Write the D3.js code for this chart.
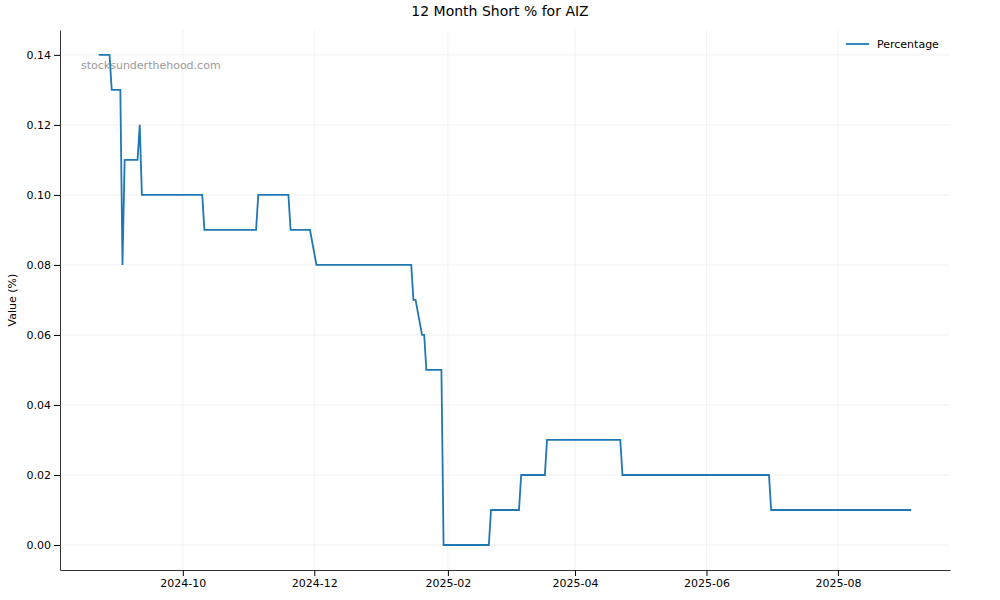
<!DOCTYPE html>
<html><head><meta charset="utf-8">
<script src="https://cdn.jsdelivr.net/npm/d3@7"></script>
<style>body{margin:0;background:#fff;font-family:"DejaVu Sans",sans-serif}</style>
</head><body><svg id="c" width="1000" height="600"></svg>
<script>
const dates=["2024-08-23","2024-08-28","2024-08-29","2024-09-02","2024-09-03","2024-09-04","2024-09-10","2024-09-11","2024-09-12","2024-10-10","2024-10-11","2024-11-04","2024-11-05","2024-11-19","2024-11-20","2024-11-29","2024-12-02","2025-01-15","2025-01-16","2025-01-17","2025-01-20","2025-01-21","2025-01-22","2025-01-29","2025-01-30","2025-02-20","2025-02-21","2025-03-06","2025-03-07","2025-03-18","2025-03-19","2025-04-22","2025-04-23","2025-06-30","2025-07-01","2025-09-04"];
const values=[0.14,0.14,0.13,0.13,0.08,0.11,0.11,0.12,0.10,0.10,0.09,0.09,0.10,0.10,0.09,0.09,0.08,0.08,0.07,0.07,0.06,0.06,0.05,0.05,0.00,0.00,0.01,0.01,0.02,0.02,0.03,0.03,0.02,0.02,0.01,0.01];
const yTicks=[0,0.02,0.04,0.06,0.08,0.10,0.12,0.14];
const xTickLabels=["2024-10","2024-12","2025-02","2025-04","2025-06","2025-08"];
const p=d3.timeParse("%Y-%m-%d");
const data=dates.map((d,i)=>({d:p(d),v:values[i]}));
const svg=d3.select("#c");
const L=60,R=950,T=30,B=570;
const x=d3.scaleTime().domain([p("2024-08-05"),p("2025-09-22")]).range([L,R]);
const y=d3.scaleLinear().domain([-0.00714,0.1471]).range([B,T]);
const xt=xTickLabels.map(s=>p(s+"-01"));
const g=svg.append("g");
g.selectAll(".gx").data(xt).join("line").attr("x1",d=>x(d)).attr("x2",d=>x(d)).attr("y1",T).attr("y2",B).attr("stroke","#eee").attr("stroke-width",0.8);
g.selectAll(".gy").data(yTicks).join("line").attr("x1",L).attr("x2",R).attr("y1",d=>y(d)).attr("y2",d=>y(d)).attr("stroke","#eee").attr("stroke-width",0.8);
svg.append("g").attr("transform",`translate(0,${B})`).call(d3.axisBottom(x).tickValues(xt).tickFormat(d3.timeFormat("%Y-%m")).tickSizeOuter(0)).call(a=>{a.select(".domain").attr("stroke","#333");a.selectAll("text").attr("font-size",11).attr("fill","#000").attr("font-family","DejaVu Sans");});
svg.append("g").attr("transform",`translate(${L},0)`).call(d3.axisLeft(y).tickValues(yTicks).tickFormat(d3.format(".2f")).tickSizeOuter(0)).call(a=>{a.select(".domain").attr("stroke","#333");a.selectAll("text").attr("font-size",11).attr("fill","#000").attr("font-family","DejaVu Sans");});
svg.append("path").datum(data).attr("fill","none").attr("stroke","#1f77b4").attr("stroke-width",1.8).attr("d",d3.line().x(d=>x(d.d)).y(d=>y(d.v)));
svg.append("text").attr("x",500).attr("y",16).attr("text-anchor","middle").attr("font-size",14).text("12 Month Short % for AIZ");
svg.append("text").attr("transform","translate(16,300) rotate(-90)").attr("text-anchor","middle").attr("font-size",11).text("Value (%)");
svg.append("text").attr("x",81).attr("y",69).attr("font-size",11).attr("fill","#999").text("stocksunderthehood.com");
svg.append("line").attr("x1",846).attr("x2",869).attr("y1",44).attr("y2",44).attr("stroke","#1f77b4").attr("stroke-width",1.8);
svg.append("text").attr("x",877).attr("y",48).attr("font-size",11).text("Percentage");
</script></body></html>
